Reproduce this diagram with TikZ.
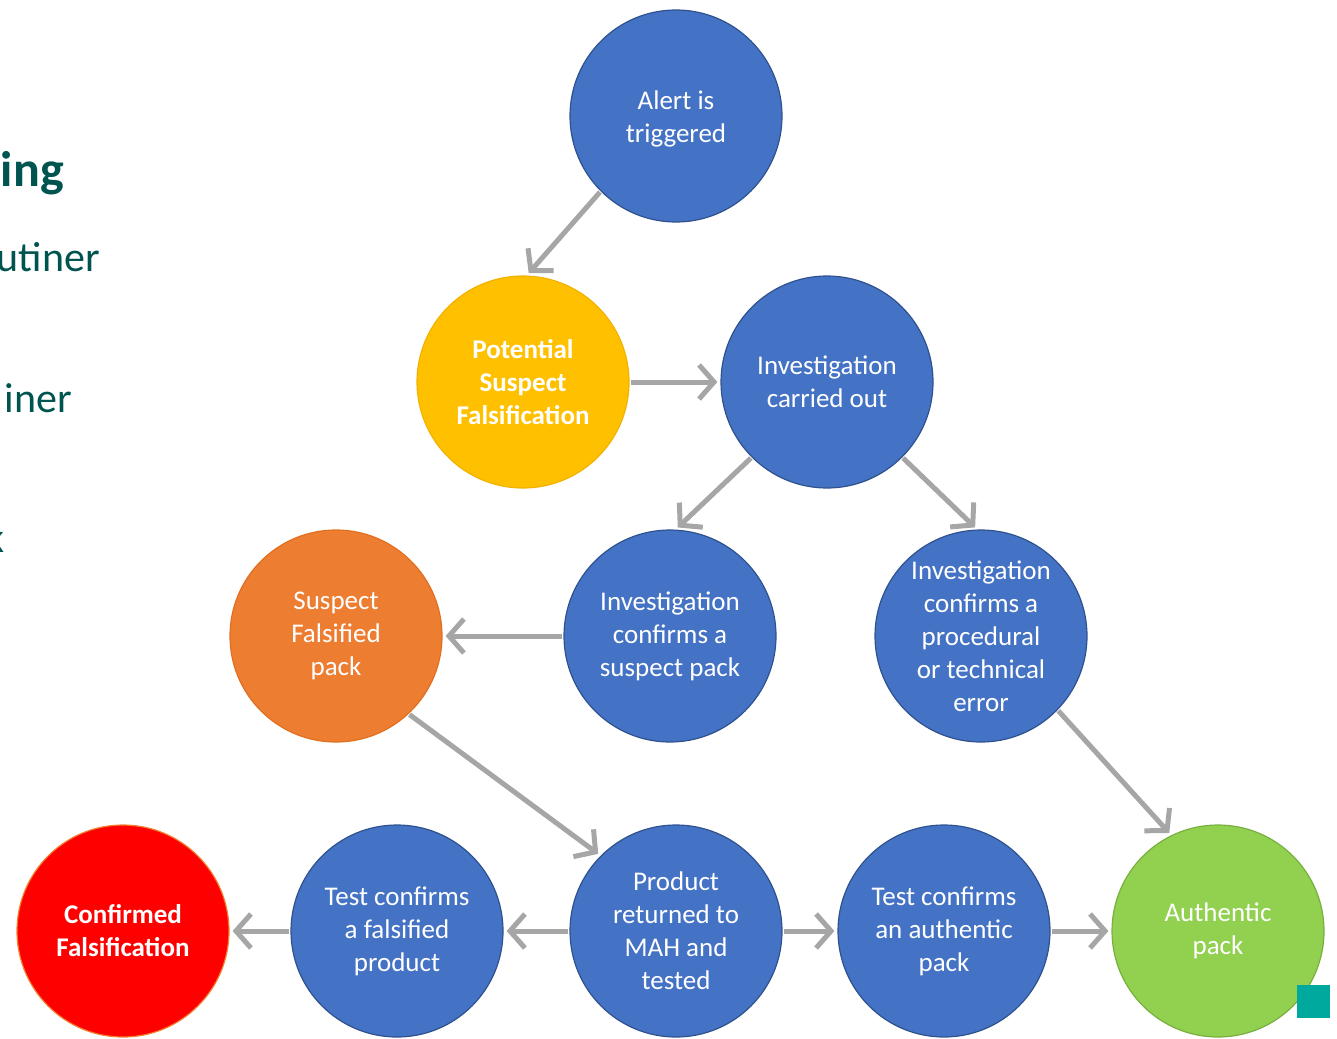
\documentclass[tikz,border=0pt]{standalone}
\usepackage{fontspec}
\setmainfont{Carlito}
\usetikzlibrary{arrows.meta}
\definecolor{cblue}{HTML}{4472C4}
\definecolor{cblueb}{HTML}{2F528F}
\definecolor{cyellow}{HTML}{FFC000}
\definecolor{cyellowb}{HTML}{F2B200}
\definecolor{corange}{HTML}{ED7D31}
\definecolor{corangeb}{HTML}{E07020}
\definecolor{cred}{HTML}{FF0000}
\definecolor{credb}{HTML}{F08030}
\definecolor{cgreen}{HTML}{92D050}
\definecolor{cgreenb}{HTML}{78B040}
\definecolor{carrow}{HTML}{A6A6A6}
\definecolor{cteal}{HTML}{00A99D}
\definecolor{cdark}{HTML}{005450}
\tikzset{
  stage/.style={circle, minimum size=212pt, inner sep=0pt, line width=1.2pt,
    text=white, align=center, font=\fontsize{27}{33}\selectfont},
  bluestage/.style={stage, fill=cblue, draw=cblueb},
  stagetext/.style={text=white, align=center, inner sep=0pt, font=\fontsize{27}{33}\selectfont},
  flow/.style={draw=carrow, line width=5pt, shorten >=3pt, shorten <=1pt,
    -{Straight Barb[length=15pt,width=34pt,line width=5pt]}},
  sidetext/.style={text=cdark, anchor=base east, inner sep=0pt}
}
\begin{document}
\begin{tikzpicture}[x=1pt,y=-1pt]
\useasboundingbox (0,0) rectangle (1337,1038);
% left fragments
\node[sidetext, font=\fontsize{50}{60}\selectfont\bfseries] (t1) at (64,186) {ing};
\node[sidetext, font=\fontsize{42}{50}\selectfont] (t2) at (100,271) {utiner};
\node[sidetext, font=\fontsize{42}{50}\selectfont] (t3) at (72,412) {iner};
\node[sidetext, font=\fontsize{42}{50}\selectfont] (t4) at (5,552) {k};
% stages
\node[bluestage] (alert) at (676,116) {};
\node[stagetext] (alerttxt) at (676,119) {Alert is\\triggered};
\node[stage, fill=cyellow, draw=cyellowb, font=\fontsize{27}{33}\selectfont\bfseries] (pot) at (523,382) {Potential\\Suspect\\Falsification};
\node[bluestage] (inv) at (827,382) {Investigation\\carried out};
\node[bluestage] (csp) at (670,636) {Investigation\\confirms a\\suspect pack};
\node[bluestage] (proc) at (981,636) {Investigation\\confirms a\\procedural\\or technical\\error};
\node[stage, fill=corange, draw=corangeb] (sfp) at (336,636) {Suspect\\Falsified\\pack};
\node[stage, fill=cred, draw=credb, font=\fontsize{27}{33}\selectfont\bfseries] (conf) at (123,931) {Confirmed\\Falsification};
\node[bluestage] (tfp) at (397,931) {Test confirms\\a falsified\\product};
\node[bluestage] (prod) at (676,931) {Product\\returned to\\MAH and\\tested};
\node[bluestage] (tap) at (944,931) {Test confirms\\an authentic\\pack};
\node[stage, fill=cgreen, draw=cgreenb] (auth) at (1218,931) {Authentic\\pack};
% teal square
\node[fill=cteal, minimum size=33pt, inner sep=0pt, anchor=north west] (sq) at (1297,985) {};
% arrows
\draw[flow] (alert.225) -- (pot.88);
\draw[flow] (pot.east) -- (inv.west);
\draw[flow] (inv.225) -- (csp.87);
\draw[flow] (inv.315) -- (proc.92);
\draw[flow] (csp.west) -- (sfp.east);
\draw[flow] (sfp.313) -- (prod.135);
\draw[flow] (proc.316) -- (auth.116);
\draw[flow] (tfp.west) -- (conf.east);
\draw[flow] (prod.west) -- (tfp.east);
\draw[flow] (prod.east) -- (tap.west);
\draw[flow] (tap.east) -- (auth.west);
\end{tikzpicture}
\end{document}
